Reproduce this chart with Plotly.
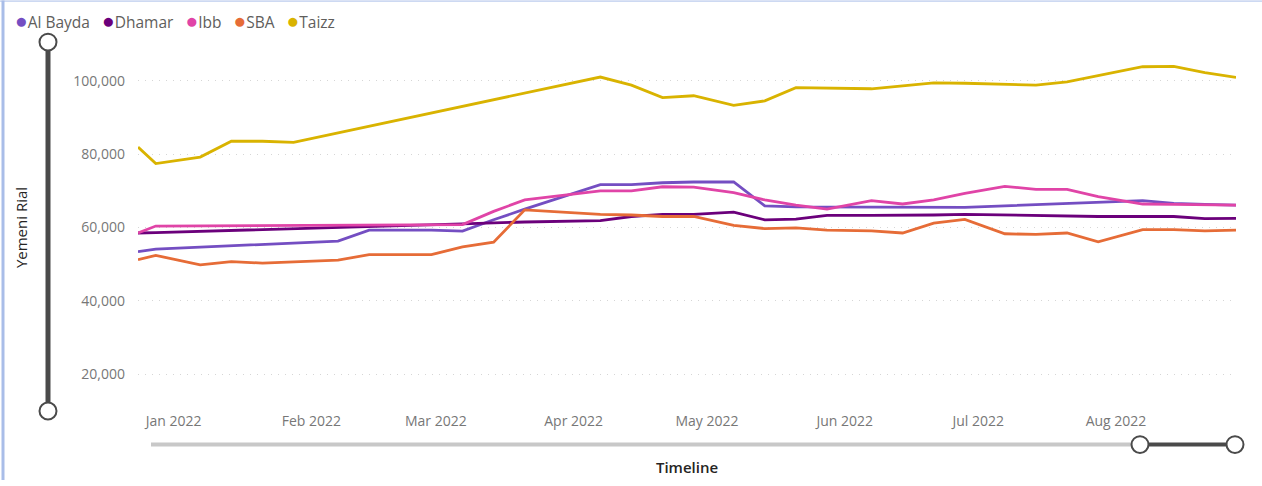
import plotly.graph_objects as go

# ---------------- data ----------------
dates = ["2021-12-24", "2021-12-28", "2022-01-07", "2022-01-14", "2022-01-21", "2022-01-28",
         "2022-02-07", "2022-02-14", "2022-02-28", "2022-03-07", "2022-03-14", "2022-03-21",
         "2022-04-07", "2022-04-14", "2022-04-21", "2022-04-28", "2022-05-07", "2022-05-14",
         "2022-05-21", "2022-05-28", "2022-06-07", "2022-06-14", "2022-06-21", "2022-06-28",
         "2022-07-07", "2022-07-14", "2022-07-21", "2022-07-28", "2022-08-07", "2022-08-14",
         "2022-08-21", "2022-08-28"]

al_bayda = [53400, 54100, None, None, None, None, 56300, 59300, 59300, 59000, 62100, 65000,
            71700, 71700, 72200, 72400, 72400, 65900, 65600, 65600, 65600, 65600, 65600, 65500,
            None, None, None, None, 67300, 66600, 66300, 66100]
dhamar = [58500, 58600, None, None, None, None, None, None, None, 61000, 61300, 61500,
          61900, 63000, 63600, 63600, 64200, 62100, 62300, 63300, 63300, 63300, 63400, 63600,
          63400, 63300, 63000, 63000, 63000, 63000, 62400, 62500]
ibb = [58500, 60400, None, None, None, None, None, None, None, 60800, 64400, 67500,
       70000, 70000, 71100, 71000, 69500, 67500, 66100, 65000, 67300, 66400, 67500, 69300,
       71200, 70400, 70400, 68400, 66400, 66300, 66200, 66100]
sba = [51250, 52400, 49800, 50700, 50300, 50600, 51100, 52600, 52600, 54700, 56000, 64800,
       63600, 63400, 63000, 63000, 60600, 59700, 59900, 59300, 59100, 58500, 61200, 62200,
       58300, 58100, 58500, 56100, 59400, 59400, 59100, 59300]
taizz = [81900, 77400, 79200, 83500, 83500, 83200, None, None, None, None, None, None,
         101000, 98800, 95400, 95900, 93300, 94500, 98100, 98000, 97800, 98600, 99400, 99300,
         99000, 98800, 99700, 101400, 103800, 103900, 102200, 100900]

series_names = ["Al Bayda", "Dhamar", "Ibb", "SBA", "Taizz"]
series_values = [al_bayda, dhamar, ibb, sba, taizz]
series_colors = ["#744EC2", "#6B007B", "#E044A7", "#E66C37", "#D9B300"]

y_ticks = [20000, 40000, 60000, 80000, 100000]
x_ticks = ["2022-01-01", "2022-02-01", "2022-03-01", "2022-04-01", "2022-05-01",
           "2022-06-01", "2022-07-01", "2022-08-01"]
x_tick_labels = ["Jan 2022", "Feb 2022", "Mar 2022", "Apr 2022", "May 2022",
                 "Jun 2022", "Jul 2022", "Aug 2022"]

# ---------------- layout geometry ----------------
W, H = 1262, 486
L, R, T, B = 138, 26, 44, 70
PW, PH = W - L - R, H - T - B
FONT = "Segoe UI, Open Sans, Noto Sans, sans-serif"


def pxx(x):
    return (x - L) / PW


def pxy(y):
    return (H - B - y) / PH


fig = go.Figure()
for name, vals, col in zip(series_names, series_values, series_colors):
    fig.add_trace(go.Scatter(
        x=dates, y=vals, name=name, mode="lines", connectgaps=True,
        line=dict(color=col, width=2.8), showlegend=False,
        hovertemplate="%{x|%b %d, %Y}<br>" + name + ": %{y:,}<extra></extra>",
    ))

# legend rendered as one text line with coloured dots
legend_text = "\u00a0\u00a0\u00a0".join(
    f"<span style='color:{c};font-size:21px'>●</span>{n}"
    for n, c in zip(series_names, series_colors)
)

shapes = []
# report-frame borders
shapes.append(dict(type="line", xref="paper", yref="paper", x0=pxx(3), x1=pxx(3),
                   y0=pxy(0), y1=pxy(H), line=dict(color="#A9BDE8", width=3)))
shapes.append(dict(type="line", xref="paper", yref="paper", x0=pxx(0), x1=pxx(W),
                   y0=pxy(0.5), y1=pxy(0.5), line=dict(color="#A9BDE8", width=1)))
# vertical zoom slider
shapes.append(dict(type="line", xref="paper", yref="paper", x0=pxx(48), x1=pxx(48),
                   y0=pxy(42), y1=pxy(416), line=dict(color="#4A4A4A", width=5)))
# horizontal zoom slider
shapes.append(dict(type="line", xref="paper", yref="paper", x0=pxx(151), x1=pxx(1140),
                   y0=pxy(450), y1=pxy(450), line=dict(color="#C8C8C8", width=4)))
shapes.append(dict(type="line", xref="paper", yref="paper", x0=pxx(1140), x1=pxx(1235),
                   y0=pxy(450), y1=pxy(450), line=dict(color="#4A4A4A", width=4)))
r = 8.5
for cx, cy in [(48, 42), (48, 416), (1140, 450), (1235, 450)]:
    shapes.append(dict(type="circle", xref="paper", yref="paper",
                       x0=pxx(cx - r), x1=pxx(cx + r), y0=pxy(cy + r), y1=pxy(cy - r),
                       fillcolor="white", line=dict(color="#4A4A4A", width=2)))

fig.update_layout(
    width=W, height=H,
    margin=dict(l=L, r=R, t=T, b=B, pad=0),
    paper_bgcolor="white", plot_bgcolor="white",
    font=dict(family=FONT, size=14, color="#777777"),
    showlegend=False,
    shapes=shapes,
    annotations=[dict(
        text=legend_text, xref="paper", yref="paper", x=pxx(13), y=pxy(20),
        xanchor="left", yanchor="middle", showarrow=False,
        font=dict(family=FONT, size=15.5, color="#605E5C"),
    )],
    xaxis=dict(
        type="date", range=[dates[0], dates[-1]],
        tickvals=x_ticks, ticktext=x_tick_labels,
        showgrid=False, zeroline=False, showline=False,
        ticks="", tickfont=dict(size=14, color="#777777"),
        title=dict(text="Timeline", standoff=33,
                   font=dict(family=FONT, size=15, color="#252423", weight=600)),
        fixedrange=True,
    ),
    yaxis=dict(
        range=[10000, 110000], tickvals=y_ticks, tickformat=",",
        showgrid=True, gridcolor="#D6D6D6", gridwidth=1, griddash="1px,6px",
        zeroline=False, showline=False, ticks="",
        ticklabelstandoff=12,
        tickfont=dict(size=14, color="#777777"),
        title=dict(text="Yemeni Rial", standoff=42,
                   font=dict(family=FONT, size=15, color="#252423")),
        fixedrange=True,
    ),
)

fig.write_html("out.html", config={"displayModeBar": False},
               post_script="document.body.style.margin='0';")
